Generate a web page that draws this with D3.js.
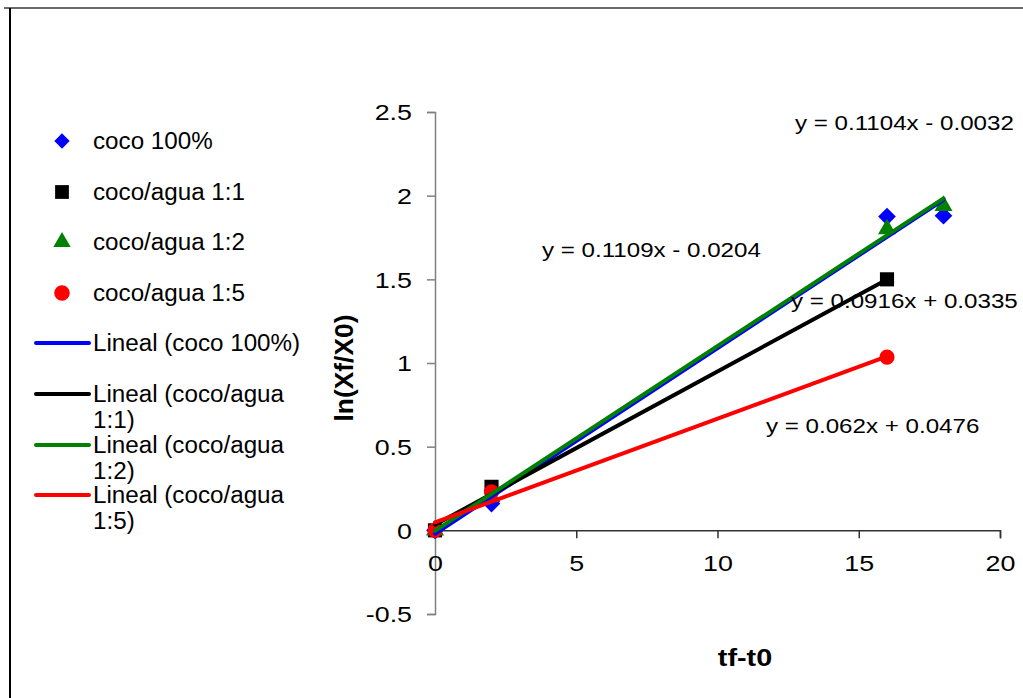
<!DOCTYPE html>
<html>
<head>
<meta charset="utf-8">
<script src="https://cdnjs.cloudflare.com/ajax/libs/d3/7.8.5/d3.min.js"></script>
<style>
  body { margin: 0; background: #fff; }
  text { font-family: "Liberation Sans", Arial, sans-serif; }
</style>
</head>
<body>
<div id="chart"></div>
<script>
// data
const seriesNames = ["coco 100%", "coco/agua 1:1", "coco/agua 1:2", "coco/agua 1:5"];
const trendNames = ["Lineal (coco 100%)", "Lineal (coco/agua 1:1)", "Lineal (coco/agua 1:2)", "Lineal (coco/agua 1:5)"];
const xCoco100 = [0, 2, 16, 18];
const yCoco100 = [0, 0.16, 1.875, 1.88];
const xAgua11 = [0, 2, 16];
const yAgua11 = [0, 0.26, 1.5];
const xAgua12 = [0, 2, 16, 18];
const yAgua12 = [0, 0.2, 1.8, 1.94];
const xAgua15 = [0, 2, 16];
const yAgua15 = [0, 0.23, 1.035];
// trend line coefficients as printed on the chart
const slopes = [0.1109, 0.0916, 0.1104, 0.062];
const intercepts = [-0.0204, 0.0335, -0.0032, 0.0476];
const equations = ["y = 0.1109x - 0.0204", "y = 0.0916x + 0.0335", "y = 0.1104x - 0.0032", "y = 0.062x + 0.0476"];
const xTicks = [0, 5, 10, 15, 20];
const yTicks = [-0.5, 0, 0.5, 1, 1.5, 2, 2.5];
const colors = ["#0000ff", "#000000", "#008000", "#ff0000"];
const symbols = [d3.symbolDiamond2, d3.symbolSquare, d3.symbolTriangle, d3.symbolCircle];

const width = 1023;
const height = 698;
// the original text is drawn a bit wide, so text gets a horizontal stretch
const tickFs = 22, tickSx = 1.22;
const eqFs = 21, eqSx = 1.15;
const legFs = 23.5, legSx = 1.03;
const titleFs = 24, titleSx = 1.2;

const series = [
  {xs: xCoco100, ys: yCoco100},
  {xs: xAgua11, ys: yAgua11},
  {xs: xAgua12, ys: yAgua12},
  {xs: xAgua15, ys: yAgua15}
];

const svg = d3.select("#chart").append("svg")
  .attr("width", width)
  .attr("height", height);

// outer frame
svg.append("line").attr("x1", 4).attr("x2", width).attr("y1", 8).attr("y2", 8)
  .attr("stroke", "#6a6a6a").attr("stroke-width", 2);
svg.append("line").attr("x1", 10).attr("x2", 10).attr("y1", 8).attr("y2", height)
  .attr("stroke", "#000").attr("stroke-width", 2);

const xScale = d3.scaleLinear().domain([0, 20]).range([435, 1000]);
const yScale = d3.scaleLinear().domain([-0.5, 2.5]).range([614, 112]);

// stretch text horizontally around its own anchor
function stretch(sel, k) {
  sel.each(function() {
    const t = d3.select(this);
    const x = +t.attr("x") || 0;
    const y = +t.attr("y") || 0;
    t.attr("x", 0).attr("y", 0)
     .attr("transform", `translate(${x},${y}) scale(${k},1)`);
  });
}

// axes
const yAxis = svg.append("g")
  .attr("transform", `translate(${xScale(0)},0)`)
  .call(d3.axisLeft(yScale).tickValues(yTicks).tickSize(8).tickPadding(15).tickFormat(d => String(d)));
yAxis.select(".domain").attr("stroke", "#808080").attr("stroke-width", 1.5);
yAxis.selectAll(".tick line").attr("stroke", "#808080").attr("stroke-width", 1.5);
yAxis.selectAll(".tick text").attr("font-size", tickFs).attr("fill", "#000")
  .attr("font-family", "Liberation Sans, Arial, sans-serif").attr("dy", "0.35em")
  .call(stretch, tickSx);

const xAxis = svg.append("g")
  .attr("transform", `translate(0,${yScale(0)})`)
  .call(d3.axisBottom(xScale).tickValues(xTicks).tickSize(8).tickPadding(17).tickFormat(d => String(d)));
xAxis.select(".domain").attr("stroke", "#333").attr("stroke-width", 1.5);
xAxis.selectAll(".tick line").attr("stroke", "#333").attr("stroke-width", 1.5);
xAxis.selectAll(".tick text").attr("font-size", tickFs).attr("fill", "#000")
  .attr("font-family", "Liberation Sans, Arial, sans-serif")
  .call(stretch, tickSx);

// axis titles (the rotated one is stretched across, not along)
svg.append("text")
  .attr("transform", `translate(353,368) rotate(-90) scale(1.1,1.1)`)
  .attr("text-anchor", "middle")
  .attr("font-size", titleFs).attr("font-weight", "bold")
  .text("ln(Xf/X0)");
svg.append("text")
  .attr("transform", `translate(745,666) scale(${titleSx},1)`)
  .attr("text-anchor", "middle")
  .attr("font-size", titleFs).attr("font-weight", "bold")
  .text("tf-t0");

// markers
const markerSizes = [200, 200, 140, 180];
series.forEach((s, i) => {
  svg.append("g").selectAll("path")
    .data(s.xs.map((x, j) => [x, s.ys[j]]))
    .enter().append("path")
    .attr("transform", d => `translate(${xScale(d[0])},${yScale(d[1])})`)
    .attr("d", d3.symbol().type(symbols[i]).size(markerSizes[i]))
    .attr("fill", colors[i]);
});

// trend lines (drawn over markers)
const line = d3.line().x(d => xScale(d[0])).y(d => yScale(d[1]));
series.forEach((s, i) => {
  const x1 = d3.max(s.xs);
  svg.append("path")
    .datum([[0, intercepts[i]], [x1, slopes[i] * x1 + intercepts[i]]])
    .attr("d", line)
    .attr("fill", "none")
    .attr("stroke", colors[i])
    .attr("stroke-width", 4)
    .attr("stroke-linecap", "round");
});

// equation labels
const eqPos = [[542, 257], [791, 308], [795, 130], [766, 433]];
equations.forEach((e, i) => {
  svg.append("text")
    .attr("transform", `translate(${eqPos[i][0]},${eqPos[i][1]}) scale(${eqSx},1)`)
    .attr("font-size", eqFs)
    .text(e);
});

// legend
const legend = svg.append("g");
const legY = [141, 192, 242, 293];
const legMarkerSizes = [150, 190, 130, 190];
seriesNames.forEach((n, i) => {
  legend.append("path")
    .attr("transform", `translate(62,${legY[i]})`)
    .attr("d", d3.symbol().type(symbols[i]).size(legMarkerSizes[i]))
    .attr("fill", colors[i]);
  legend.append("text")
    .attr("transform", `translate(93,${legY[i] + 8}) scale(${legSx},1)`)
    .attr("font-size", legFs)
    .text(n);
});
const lineY = [343, 394, 445, 495];
trendNames.forEach((n, i) => {
  legend.append("line")
    .attr("x1", 36).attr("x2", 89)
    .attr("y1", lineY[i]).attr("y2", lineY[i])
    .attr("stroke", colors[i]).attr("stroke-width", 4)
    .attr("stroke-linecap", "round");
  // long names wrap onto a second line
  const parts = i === 0 ? [n] : [n.slice(0, n.lastIndexOf(" ")), n.slice(n.lastIndexOf(" ") + 1)];
  parts.forEach((p, k) => {
    legend.append("text")
      .attr("transform", `translate(93,${lineY[i] + 8 + k * 26}) scale(${legSx},1)`)
      .attr("font-size", legFs)
      .text(p);
  });
});
</script>
</body>
</html>
